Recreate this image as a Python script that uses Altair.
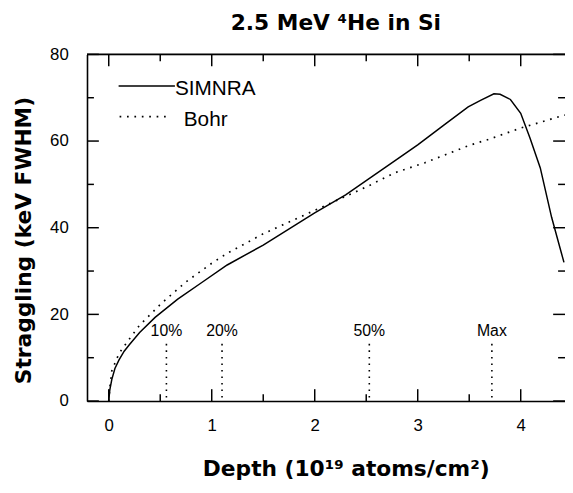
import altair as alt
import pandas as pd

# ---- data ----
simnra_depth = [0.0, 0.01, 0.03, 0.06, 0.10, 0.15, 0.20, 0.30, 0.45, 0.67, 0.90, 1.15, 1.50,
                2.00, 2.30, 2.78, 3.00, 3.26, 3.49, 3.61, 3.74, 3.80, 3.90, 4.00, 4.09,
                4.19, 4.30, 4.42]
simnra_strag = [0.0, 2.5, 5.0, 7.5, 9.5, 11.5, 13.0, 15.8, 19.3, 23.5, 27.3, 31.4, 36.0,
                43.4, 47.6, 55.5, 59.1, 63.8, 67.9, 69.4, 70.9, 70.8, 69.6, 66.4, 60.7,
                53.8, 42.4, 32.0]
bohr_depth = [0.0, 0.01, 0.03, 0.10, 0.19, 0.30, 0.51, 0.75, 1.00, 1.15, 1.50, 2.00, 2.50,
              2.78, 3.07, 3.50, 3.69, 4.00, 4.37, 4.43]
bohr_strag = [0.0, 3.0, 7.0, 11.0, 14.0, 17.5, 22.5, 27.5, 31.8, 34.1, 38.6, 44.0, 49.4,
              52.7, 55.0, 59.0, 60.4, 63.0, 65.6, 66.0]

marker_depth = [0.56, 1.10, 2.53, 3.72]
marker_label = ["10%", "20%", "50%", "Max"]
marker_line_top = [13.2, 13.2, 13.2, 13.2]
marker_text_y = [15.0, 15.0, 15.0, 15.0]

x_major = [0, 1, 2, 3, 4]
x_minor = [0.5, 1.5, 2.5, 3.5]
y_major = [0, 20, 40, 60, 80]
y_minor = [10, 30, 50, 70]

x_domain = [-0.211, 4.43]
y_domain = [0, 80]

title_text = "2.5 MeV \u2074He in Si"
x_title = "Depth (10\u00b9\u2079 atoms/cm\u00b2)"
y_title = "Straggling (keV FWHM)"

# ---- layout ----
W, H = 484, 351
MAJ, MIN = 12, 7
FONT = "Liberation Sans"
TFONT = "DejaVu Sans"

xs = alt.Scale(domain=x_domain, nice=False, zero=False)
ys = alt.Scale(domain=y_domain, nice=False, zero=False)

simnra = pd.DataFrame({"depth": simnra_depth, "strag": simnra_strag})
bohr = pd.DataFrame({"depth": bohr_depth, "strag": bohr_strag})
markers = pd.DataFrame({"depth": marker_depth, "label": marker_label,
                        "top": marker_line_top, "ty": marker_text_y})

x_axis = alt.Axis(values=x_major, format="d", title=x_title, grid=False,
                  ticks=False, tickSize=0, labelPadding=17, labelFontSize=17, labelFont=FONT,
                  labelColor="black", domainColor="black", domainWidth=1.6,
                  titleFont=TFONT, titleFontSize=22, titleFontWeight="bold", titleColor="black",
                  titleX=262, titleY=75, titleAlign="center", titleBaseline="alphabetic")
y_axis = alt.Axis(values=y_major, format="d", title=y_title, grid=False,
                  ticks=False, tickSize=0, labelPadding=19, labelFontSize=17, labelFont=FONT,
                  labelColor="black", domainColor="black", domainWidth=1.6,
                  titleFont=TFONT, titleFontSize=22, titleFontWeight="bold", titleColor="black",
                  titleAngle=270, titleX=-57, titleY=188, titleAlign="center",
                  titleBaseline="alphabetic")

line_simnra = alt.Chart(simnra).mark_line(color="black", strokeWidth=1.5, clip=True).encode(
    x=alt.X("depth:Q", scale=xs, axis=x_axis),
    y=alt.Y("strag:Q", scale=ys, axis=y_axis),
)
line_bohr = alt.Chart(bohr).mark_line(color="black", strokeWidth=1.7, strokeDash=[1.7, 5.8],
                                      clip=True).encode(
    x=alt.X("depth:Q", scale=xs),
    y=alt.Y("strag:Q", scale=ys),
)

marker_lines = alt.Chart(markers).mark_rule(color="black", strokeWidth=1.6,
                                            strokeDash=[1.6, 5]).encode(
    x=alt.X("depth:Q", scale=xs),
    y=alt.Y("top:Q", scale=ys),
    y2=alt.value(H),
)
marker_text = alt.Chart(markers).mark_text(font=FONT, fontSize=16, color="black",
                                           baseline="alphabetic", align="center").encode(
    x=alt.X("depth:Q", scale=xs),
    y=alt.Y("ty:Q", scale=ys),
    text="label:N",
)

# legend drawn in the top-left corner, plus the chart title
leg_df = pd.DataFrame({"name": ["SIMNRA", "Bohr"], "title": [title_text, title_text]})
first = alt.datum.name == "SIMNRA"
second = alt.datum.name == "Bohr"
leg_line1 = alt.Chart(leg_df).transform_filter(first).mark_rule(
    color="black", strokeWidth=1.5).encode(x=alt.value(32), x2=alt.value(89), y=alt.value(32))
leg_line2 = alt.Chart(leg_df).transform_filter(second).mark_rule(
    color="black", strokeWidth=1.7, strokeDash=[1.7, 5.8]).encode(
    x=alt.value(33), x2=alt.value(84), y=alt.value(63))
leg_text1 = alt.Chart(leg_df).transform_filter(first).mark_text(
    font=FONT, fontSize=21, align="left", baseline="alphabetic", color="black").encode(
    x=alt.value(89), y=alt.value(41), text="name:N")
leg_text2 = alt.Chart(leg_df).transform_filter(second).mark_text(
    font=FONT, fontSize=21, align="left", baseline="alphabetic", color="black").encode(
    x=alt.value(98), y=alt.value(73), text="name:N")
title_mark = alt.Chart(leg_df).transform_filter(first).mark_text(
    font=TFONT, fontSize=22, fontWeight="bold", align="center", baseline="alphabetic",
    color="black").encode(x=alt.value(252), y=alt.value(-25), text="title:N")

# frame top line and inward ticks
xmaj = pd.DataFrame({"v": x_major})
xmin = pd.DataFrame({"v": x_minor})
ymaj = pd.DataFrame({"v": y_major})
ymin = pd.DataFrame({"v": y_minor})

top_line = alt.Chart(leg_df).transform_filter(first).mark_rule(
    color="black", strokeWidth=1.6).encode(x=alt.value(0), x2=alt.value(W), y=alt.value(0))

def xticks(df, length):
    b = alt.Chart(df).mark_rule(color="black", strokeWidth=1.5).encode(
        x=alt.X("v:Q", scale=xs), y=alt.value(H), y2=alt.value(H - length))
    t = alt.Chart(df).mark_rule(color="black", strokeWidth=1.5).encode(
        x=alt.X("v:Q", scale=xs), y=alt.value(0), y2=alt.value(length))
    return [b, t]

def yticks(df, length):
    l = alt.Chart(df).mark_rule(color="black", strokeWidth=1.5).encode(
        y=alt.Y("v:Q", scale=ys), x=alt.value(0), x2=alt.value(length))
    r = alt.Chart(df).mark_rule(color="black", strokeWidth=1.5).encode(
        y=alt.Y("v:Q", scale=ys), x=alt.value(W - length), x2=alt.value(W))
    return [l, r]

layers = [line_simnra, line_bohr, marker_lines, marker_text,
          leg_line1, leg_line2, leg_text1, leg_text2, title_mark, top_line]
layers += xticks(xmaj, MAJ) + xticks(xmin, MIN) + yticks(ymaj, MAJ) + yticks(ymin, MIN)

chart = alt.layer(*layers).properties(
    width=W, height=H,
    padding={"left": 80, "top": 44, "right": 0, "bottom": 79},
    autosize=alt.AutoSizeParams(type="none"),
).configure_view(stroke=None).configure(background="white")

chart.save("out.html", embed_options={"renderer": "svg", "actions": False})
